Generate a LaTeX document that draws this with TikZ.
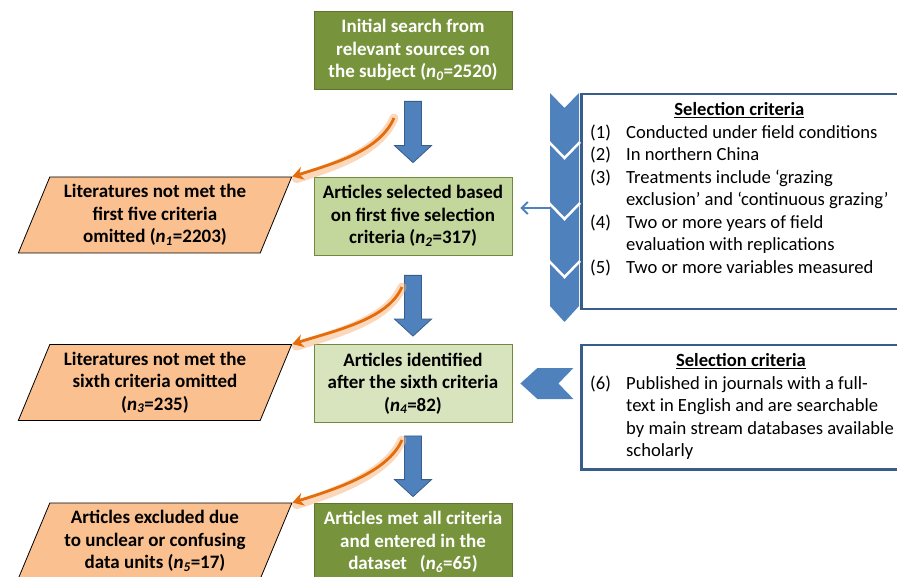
\documentclass[tikz,border=0pt]{standalone}
\usepackage{fontspec}
\setmainfont{Carlito}
\usetikzlibrary{shapes.geometric,arrows.meta,calc}
\definecolor{dkgreen}{HTML}{77933C}
\definecolor{dkgreenline}{HTML}{5E7530}
\definecolor{ltgreen}{HTML}{C3D69B}
\definecolor{ltgreenB}{HTML}{D7E4BD}
\definecolor{greenline}{HTML}{71893F}
\definecolor{peach}{HTML}{FAC090}
\definecolor{blueA}{HTML}{4F81BD}
\definecolor{blueB}{HTML}{385D8A}
\definecolor{orangeA}{HTML}{E46C0A}
\definecolor{orangeGlow}{HTML}{F8B27A}
\begin{document}
\begin{tikzpicture}[x=1pt,y=-1pt,
  txt/.style={font=\fontsize{18.6}{22.5}\selectfont},
  stepbox/.style={rectangle, minimum width=198pt, minimum height=78pt, align=center,
    font=\fontsize{19}{22.5}\selectfont\bfseries, inner sep=0pt, line width=0.8pt},
  darkbox/.style={stepbox, fill=dkgreen, draw=dkgreenline, text=white},
  lightbox/.style={stepbox, fill=ltgreen, draw=greenline},
  paler/.style={stepbox, fill=ltgreenB, draw=greenline},
  para/.style={trapezium, trapezium left angle=66, trapezium right angle=114,
    trapezium stretches=true, minimum width=274pt, minimum height=76pt,
    fill=peach, draw=black, line width=0.8pt, align=center, inner sep=0pt,
    font=\fontsize{19}{22.5}\selectfont\bfseries},
  critbox/.style={rectangle, draw=blueB, line width=2.5pt, fill=white, inner sep=0pt},
  blockarrow/.style={fill=blueA, draw=blueB, line width=0.8pt,
    to path={let \p1=(\tikztostart), \p2=(\tikztotarget) in
      (\x1-8.5pt,\y1) -- (\x1+8.5pt,\y1) -- (\x1+8.5pt,\y2+17pt) -- (\x1+18.5pt,\y2+17pt)
      -- (\x1,\y2) -- (\x1-18.5pt,\y2+17pt) -- (\x1-8.5pt,\y2+17pt) -- cycle}},
  glow/.style={draw=orangeGlow, line width=9pt, opacity=0.5, line cap=round},
  orangearrow/.style={draw=orangeA, line width=2.8pt, -{Stealth[length=11pt,width=13pt]}}
]
\useasboundingbox (0,0) rectangle (897,577);

% main boxes
\node[darkbox] (box0) at (413,50) {Initial search from\\relevant sources on\\the subject (\textit{n}\textsubscript{\textit{0}}=2520)};
\node[lightbox] (box1) at (413,216) {Articles selected based\\on first five selection\\criteria (\textit{n}\textsubscript{\textit{2}}=317)};
\node[paler] (box2) at (413,383.5) {Articles identified\\after the sixth criteria\\(\textit{n}\textsubscript{\textit{4}}=82)};
\node[darkbox] (box3) at (413,542) {Articles met all criteria\\and entered in the\\dataset\ \ \ (\textit{n}\textsubscript{\textit{6}}=65)};

% parallelograms
\node[para] (p1) at (155,215) {Literatures not met the\\first five criteria\\omitted (\textit{n}\textsubscript{\textit{1}}=2203)};
\node[para] (p2) at (155,382.5) {Literatures not met the\\sixth criteria omitted\\(\textit{n}\textsubscript{\textit{3}}=235)};
\node[para] (p3) at (155,541) {Articles excluded due\\to unclear or confusing\\data units (\textit{n}\textsubscript{\textit{5}}=17)};

% blue block arrows
\draw[blockarrow] ([yshift=-12pt]box0.south) to ([yshift=14pt]box1.north);
\draw[blockarrow] ([yshift=-20pt]box1.south) to ([yshift=8pt]box2.north);
\draw[blockarrow] ([yshift=-13pt]box2.south) to ([yshift=6pt]box3.north);

% orange curved arrows
\coordinate (o1) at (394,118);
\coordinate (o2) at (402,287);
\coordinate (o3) at (402,440);
\foreach \s/\t in {o1/p1, o2/p2, o3/p3}{
  \path[glow] (\s) .. controls +(-14,32) and +(45,-14) .. ([xshift=4pt,yshift=-2pt]\t.top right corner);
  \draw[orangearrow] (\s) .. controls +(-14,32) and +(45,-14) .. (\t.top right corner);
}

% criteria box 1
\coordinate (stripA) at (566,208);
\draw[blueA, line width=2pt, -{Straight Barb[length=6pt,width=12pt]}] (stripA) -- ([xshift=8pt,yshift=8pt]box1.east);
\node[critbox, minimum width=340pt, minimum height=215pt, anchor=north west] (crit1) at (580,93) {};
\fill[blueA] (550,93) -- (564.5,108) -- (579,93) -- (579,306) -- (564.5,322) -- (550,306) -- cycle;
\foreach \v in {142,203,261}{
  \draw[white, line width=2.5pt] (549,\v) -- (564.5,\v+16) -- (580,\v);
}
\node[txt, anchor=north west, inner sep=0pt] (crit1txt) at (590,100) {%
\begin{tabular}{@{}p{36pt}@{}l@{}}
\multicolumn{2}{@{}c@{}}{\textbf{\underline{Selection criteria}}}\\
(1) & Conducted under field conditions\\
(2) & In northern China\\
(3) & Treatments include `grazing\\
    & exclusion' and `continuous grazing'\\
(4) & Two or more years of field\\
    & evaluation with replications\\
(5) & Two or more variables measured
\end{tabular}};

% criteria box 2
\node[critbox, minimum width=340pt, minimum height=124pt, anchor=north west] (crit2) at (580,344) {};
\node[txt, anchor=north west, inner sep=0pt] (crit2txt) at (590,351) {%
\begin{tabular}{@{}p{36pt}@{}l@{}}
\multicolumn{2}{@{}c@{}}{\hspace{-2pt}\textbf{\underline{Selection criteria}}}\\
(6) & Published in journals with a full-\\
    & text in English and are searchable\\
    & by main stream databases available\\
    & scholarly
\end{tabular}};
\fill[blueA] ([xshift=8pt]box2.east) -- ++(17,-15.5) -- ++(36,0) -- ++(-15,15.5)
  -- ++(15,15.5) -- ++(-36,0) -- cycle;
\end{tikzpicture}
\end{document}
